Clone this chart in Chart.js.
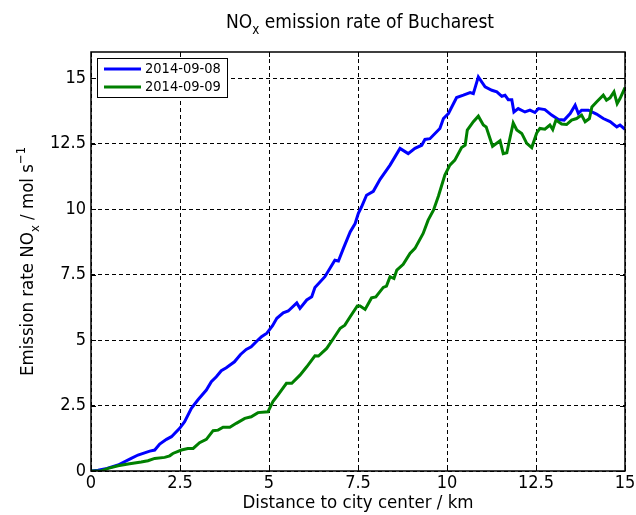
<!DOCTYPE html>
<html>
<head>
<meta charset="utf-8">
<script src="https://cdn.jsdelivr.net/npm/chart.js@4/dist/chart.umd.min.js"></script>
<style>
html,body{margin:0;padding:0;background:#fff;}
#wrap{width:636px;height:515px;}
</style>
</head>
<body>
<div id="wrap"><canvas id="c" width="636" height="515"></canvas></div>
<script>
// ---- data ----
const labels = ['2014-09-08', '2014-09-09'];
const yTickLabels = ['0', '2.5', '5', '7.5', '10', '12.5', '15'];
const xTickLabels = ['0', '2.5', '5', '7.5', '10', '12.5', '15'];

const distance0908 = [0,0.2,0.45,0.76,1.13,1.32,1.65,1.79,1.93,2.12,2.26,2.49,2.63,2.82,3.0,3.24,3.38,3.52,3.66,3.8,4.03,4.2,4.36,4.5,4.69,4.79,4.94,5.1,5.22,5.4,5.54,5.78,5.87,6.06,6.2,6.29,6.57,6.85,6.95,7.09,7.28,7.42,7.51,7.6,7.74,7.93,8.12,8.4,8.68,8.91,9.1,9.29,9.38,9.52,9.8,9.9,10.04,10.27,10.46,10.65,10.74,10.88,11.07,11.26,11.4,11.54,11.63,11.72,11.82,11.88,12.0,12.19,12.33,12.47,12.57,12.75,12.94,13.13,13.29,13.46,13.6,13.69,13.78,13.97,14.2,14.39,14.58,14.77,14.86,15.0];
const emission0908 = [0,0.03,0.1,0.23,0.48,0.61,0.76,0.8,1.03,1.21,1.31,1.63,1.88,2.39,2.71,3.09,3.41,3.6,3.83,3.94,4.17,4.45,4.64,4.74,5.0,5.13,5.26,5.55,5.83,6.04,6.11,6.42,6.21,6.53,6.65,7.01,7.42,8.05,8.02,8.5,9.13,9.45,9.84,10.09,10.53,10.68,11.14,11.68,12.32,12.12,12.32,12.44,12.66,12.69,13.08,13.46,13.65,14.26,14.35,14.45,14.41,15.05,14.67,14.54,14.48,14.31,14.35,14.18,14.18,13.71,13.84,13.71,13.78,13.69,13.84,13.8,13.59,13.42,13.4,13.65,13.97,13.65,13.78,13.78,13.63,13.46,13.34,13.14,13.21,13.05];

const distance0909 = [0,0.29,0.48,0.76,1.04,1.41,1.6,1.79,2.07,2.21,2.3,2.54,2.72,2.87,3.05,3.24,3.43,3.57,3.71,3.9,4.08,4.32,4.5,4.69,4.97,5.11,5.25,5.49,5.64,5.87,6.06,6.29,6.39,6.62,6.81,7.0,7.13,7.28,7.48,7.56,7.7,7.88,8.0,8.21,8.3,8.4,8.51,8.59,8.77,8.96,9.1,9.33,9.47,9.62,9.76,9.94,10.08,10.22,10.41,10.51,10.57,10.74,10.88,11.02,11.1,11.28,11.49,11.58,11.68,11.86,11.96,12.1,12.24,12.38,12.52,12.61,12.75,12.89,12.97,13.06,13.22,13.36,13.5,13.64,13.78,13.88,14.0,14.07,14.2,14.39,14.48,14.58,14.69,14.78,14.86,15.0];
const emission0909 = [0,0,0.1,0.2,0.27,0.34,0.39,0.48,0.52,0.58,0.67,0.8,0.86,0.86,1.08,1.21,1.54,1.56,1.67,1.67,1.82,2.01,2.07,2.23,2.26,2.65,2.9,3.35,3.35,3.66,3.98,4.4,4.39,4.68,5.06,5.45,5.57,5.89,6.3,6.3,6.17,6.61,6.65,7.01,7.06,7.42,7.35,7.67,7.89,8.31,8.5,9.07,9.58,9.96,10.5,11.3,11.68,11.87,12.35,12.44,13.02,13.34,13.55,13.21,13.14,12.4,12.61,12.12,12.15,13.29,13.02,12.89,12.51,12.35,12.91,13.08,13.05,13.21,13.04,13.4,13.25,13.23,13.4,13.46,13.59,13.34,13.46,13.9,14.09,14.35,14.16,14.25,14.48,14.03,14.22,14.64];

const toXY = (xs, ys) => xs.map((x, i) => ({x: x, y: ys[i]}));

const FONT = '"DejaVu Sans Condensed", "DejaVu Sans", sans-serif';

function drawRich(ctx, parts, x, y, baseSize, align) {
  const items = parts.map(p => {
    const size = (p.sub || p.sup) ? baseSize * 0.7 : baseSize;
    ctx.font = size + 'px ' + FONT;
    return {t: p.t, size: size, w: ctx.measureText(p.t).width,
            dy: p.sub ? baseSize * 0.3 : (p.sup ? -baseSize * 0.42 : 0)};
  });
  const total = items.reduce((s, it) => s + it.w, 0);
  let cx = align === 'center' ? x - total / 2 : x;
  ctx.textBaseline = 'alphabetic';
  ctx.textAlign = 'left';
  items.forEach(it => {
    ctx.font = it.size + 'px ' + FONT;
    ctx.fillText(it.t, cx, y + it.dy);
    cx += it.w;
  });
}

const decor = {
  id: 'decor',
  afterDraw(chart) {
    const ctx = chart.ctx;
    const a = chart.chartArea;
    const xs = chart.scales.x, ys = chart.scales.y;
    ctx.save();
    // inward tick marks
    ctx.strokeStyle = '#000';
    ctx.lineWidth = 1;
    ctx.beginPath();
    xs.ticks.forEach(t => {
      const px = Math.round(xs.getPixelForValue(t.value)) + 0.5;
      ctx.moveTo(px, a.bottom); ctx.lineTo(px, a.bottom - 5);
      ctx.moveTo(px, a.top); ctx.lineTo(px, a.top + 5);
    });
    ys.ticks.forEach(t => {
      const py = Math.round(ys.getPixelForValue(t.value)) + 0.5;
      ctx.moveTo(a.left, py); ctx.lineTo(a.left + 5, py);
      ctx.moveTo(a.right, py); ctx.lineTo(a.right - 5, py);
    });
    ctx.stroke();
    // plot frame
    ctx.lineWidth = 1.5;
    ctx.strokeRect(a.left, a.top, a.right - a.left, a.bottom - a.top);

    // legend
    const lx = 97, ly = 58, lw = 130, lh = 39;
    ctx.fillStyle = '#fff';
    ctx.fillRect(lx, ly, lw, lh);
    ctx.lineWidth = 1;
    ctx.strokeStyle = '#000';
    ctx.strokeRect(lx + 0.5, ly + 0.5, lw, lh);
    chart.data.datasets.forEach((ds, i) => {
      const yy = 69 + i * 18;
      ctx.strokeStyle = ds.borderColor;
      ctx.lineWidth = 3;
      ctx.beginPath();
      ctx.moveTo(104, yy); ctx.lineTo(141, yy);
      ctx.stroke();
      ctx.fillStyle = '#000';
      ctx.font = '14.5px ' + FONT;
      ctx.textAlign = 'left';
      ctx.textBaseline = 'middle';
      ctx.fillText(ds.label, 145, yy + 0.5);
    });

    // title
    ctx.fillStyle = '#000';
    const cxm = (a.left + a.right) / 2;
    drawRich(ctx, [{t: 'NO'}, {t: 'x', sub: true}, {t: ' emission rate of Bucharest'}], cxm + 2, 28, 19, 'center');
    // x axis title
    drawRich(ctx, [{t: 'Distance to city center / km'}], cxm, 508, 18.5, 'center');
    // y axis title
    ctx.save();
    ctx.translate(33, (a.top + a.bottom) / 2);
    ctx.rotate(-Math.PI / 2);
    drawRich(ctx, [{t: 'Emission rate NO'}, {t: 'x', sub: true}, {t: ' / mol s'}, {t: '\u22121', sup: true}], 0, 0, 18.5, 'center');
    ctx.restore();
    ctx.restore();
  }
};

new Chart(document.getElementById('c'), {
  type: 'line',
  data: {
    datasets: [
      {label: labels[0], data: toXY(distance0908, emission0908), borderColor: '#0000ff', backgroundColor: '#0000ff', borderWidth: 3, pointRadius: 0, tension: 0, fill: false, order: 1},
      {label: labels[1], data: toXY(distance0909, emission0909), borderColor: '#008000', backgroundColor: '#008000', borderWidth: 3, pointRadius: 0, tension: 0, fill: false, order: 0}
    ]
  },
  options: {
    responsive: false,
    animation: false,
    devicePixelRatio: 1,
    layout: {padding: {top: 52, right: 11, left: 0, bottom: 0}},
    plugins: {legend: {display: false}, title: {display: false}, tooltip: {enabled: false}},
    scales: {
      x: {
        type: 'linear', min: 0, max: 15,
        ticks: {stepSize: 2.5, color: '#000', font: {family: FONT, size: 18}, padding: 2, maxRotation: 0,
                callback: (v) => { const i = Math.round(v / 2.5); return xTickLabels[i] !== undefined ? xTickLabels[i] : ''; }},
        grid: {color: '#000', lineWidth: 1, drawTicks: false},
        border: {display: false, dash: [4, 3]},
        afterFit: (s) => { s.height = 44; s.paddingLeft = 0; s.paddingRight = 0; }
      },
      y: {
        type: 'linear', min: 0, max: 16,
        afterBuildTicks: (s) => { s.ticks = s.ticks.filter(t => t.value <= 15.0001); },
        ticks: {stepSize: 2.5, color: '#000', font: {family: FONT, size: 18}, padding: 5,
                callback: (v) => { const i = Math.round(v / 2.5); return yTickLabels[i] !== undefined ? yTickLabels[i] : ''; }},
        grid: {color: '#000', lineWidth: 1, drawTicks: false},
        border: {display: false, dash: [4, 3]},
        afterFit: (s) => { s.width = 91; s.paddingTop = 0; s.paddingBottom = 0; }
      }
    }
  },
  plugins: [decor]
});
</script>
</body>
</html>
